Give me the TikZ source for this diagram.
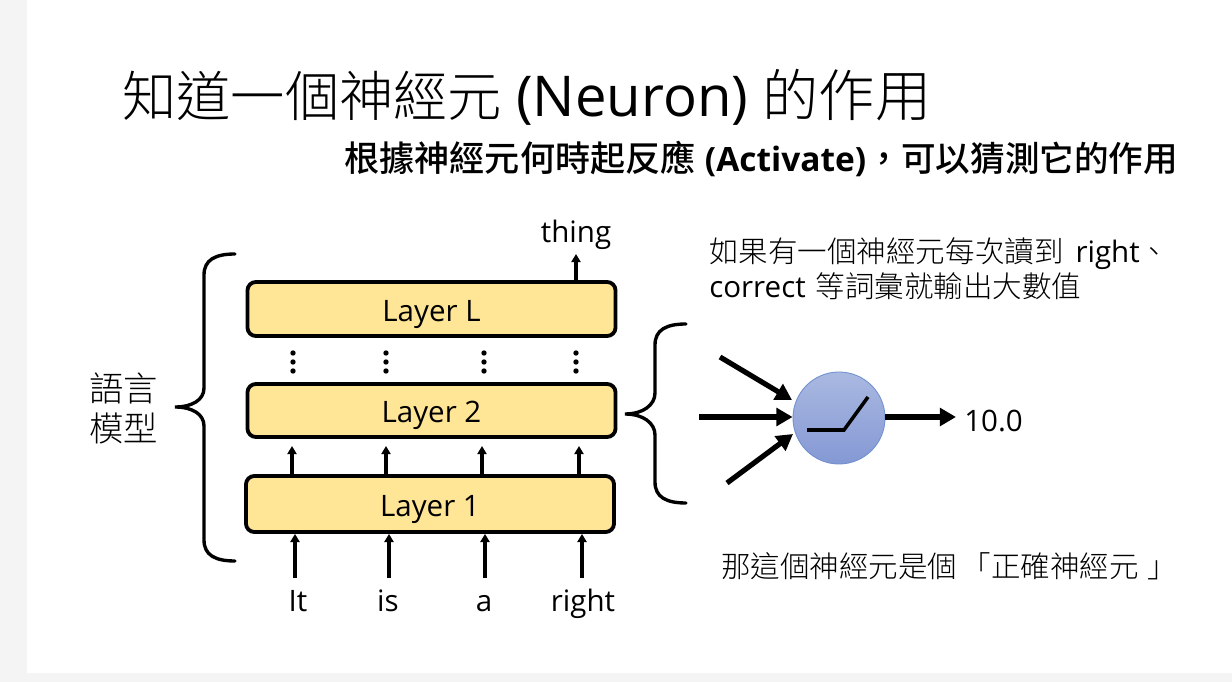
\documentclass[tikz,border=0pt]{standalone}
\usepackage{fontspec}
\usepackage{xcolor}
\setmainfont{Open Sans}
\newfontfamily\cjk{Noto Sans CJK TC Light}
\newfontfamily\cjkbold{Noto Sans CJK TC Medium}
\usetikzlibrary{arrows.meta, positioning}
\definecolor{layerfill}{HTML}{FFE596}
\definecolor{pagegray}{HTML}{F4F4F4}
\definecolor{cellborder}{HTML}{6F8FCF}
\definecolor{celltop}{HTML}{AAB9E1}
\definecolor{cellbottom}{HTML}{8498D4}

\begin{document}
\begin{tikzpicture}[
  x=0.025cm, y=-0.025cm,
  every node/.style={font=\fontsize{21}{26}\selectfont, inner sep=0pt},
  layer/.style={draw, line width=2.7pt, fill=layerfill, rounded corners=6pt,
                minimum width=9.2cm, minimum height=1.35cm,
                text height=17.4pt, text depth=0pt},
  word/.style={anchor=base},
  arrow/.style={-{Triangle[length=5.8pt,width=6.5pt]}, line width=2.4pt},
  bigarrow/.style={-{Triangle[length=11.5pt,width=12.5pt]}, line width=3.7pt},
  curly/.style={line width=2.4pt, line cap=round},
  note/.style={anchor=base west}
]
  \useasboundingbox (0,0) rectangle (1232,682);
  % Page
  \fill[pagegray] (0,0) rectangle (1232,682);
  \fill[white] (27,0) rectangle (1232,673);

  % Headings
  \node[anchor=base west, font=\fontsize{38.6}{42}\selectfont] (title) at (122,117)
    {{\cjk 知道一個神經元} {\fontsize{40}{42}\selectfont (Neuron)} {\fontsize{40}{42}\selectfont\cjk 的作用}};
  \node[anchor=base west, font=\fontsize{25}{30}\selectfont] (sub) at (344,172)
    {{\cjkbold 根據神經元何時起反應} {\fontsize{23.8}{30}\selectfont\bfseries (Activate)}{\cjkbold ，\fontsize{24.6}{30}\selectfont 可以猜測它的作用}};

  % Layers
  \node[layer] (layerl) at (431.5,309) {Layer L};
  \node[layer, minimum height=1.325cm] (layertwo) at (431.5,410.5) {Layer 2};
  \node[layer, minimum height=1.4cm] (layerone) at (430,504) {Layer 1};

  % Words
  \node[word] (it)    at (298,611) {It};
  \node[word] (is)    at (388,611) {is};
  \node[word] (a)     at (484,611) {a};
  \node[word] (right) at (583,611) {right};
  \node[word] (thing) at (576,242.5) {thing};

  % Arrow ends
  \coordinate (in1) at (295,578);
  \coordinate (in2) at (389,578);
  \coordinate (in3) at (485,578);
  \coordinate (in4) at (582,578);
  \coordinate (up1) at (292,446);
  \coordinate (up2) at (386,446);
  \coordinate (up3) at (482,446);
  \coordinate (up4) at (579,446);
  \coordinate (out) at (576,254);

  % Arrows
  \draw[arrow] (in1) -- (in1 |- layerone.south);
  \draw[arrow] (in2) -- (in2 |- layerone.south);
  \draw[arrow] (in3) -- (in3 |- layerone.south);
  \draw[arrow] (in4) -- (in4 |- layerone.south);
  \draw[arrow] (up1 |- layerone.north) -- (up1);
  \draw[arrow] (up2 |- layerone.north) -- (up2);
  \draw[arrow] (up3 |- layerone.north) -- (up3);
  \draw[arrow] (up4 |- layerone.north) -- (up4);
  \draw[arrow] (out |- layerl.north) -- (out);

  % Dots between the layers
  \foreach \x in {293,386,484,576}
    \foreach \y in {353,362,371}
      \fill (\x,\y) circle (1.9pt);

  % Left brace
  \draw[curly] (235,254) .. controls (215,254) and (204,260) .. (204,275)
    -- (204,388) .. controls (204,400) and (192,407) .. (175,407)
    .. controls (192,407) and (204,414) .. (204,426)
    -- (204,540) .. controls (204,555) and (215,561) .. (235,561);
  \node[font=\fontsize{24.4}{28.5}\selectfont\cjk, align=center] (model) at (123.5,408) {語言\\模型};

  % Right brace
  \draw[curly] (686,324) .. controls (666,324) and (655,330) .. (655,345)
    -- (655,393) .. controls (655,405) and (643,414) .. (625,414)
    .. controls (643,414) and (655,423) .. (655,435)
    -- (655,482) .. controls (655,497) and (666,503) .. (686,503);

  % Neuron
  \node[circle, draw=cellborder, line width=0.6pt, top color=celltop, bottom color=cellbottom,
        minimum size=2.3cm] (cell) at (839,418) {};
  \coordinate (src1) at (720,357);
  \coordinate (src2) at (699,417);
  \coordinate (src3) at (727,483);
  \coordinate (dst1) at (792,400);
  \coordinate (dst3) at (793,434);
  \coordinate (dst4) at (956,417);
  \draw[bigarrow] (src1) -- (dst1);
  \draw[bigarrow] (src2) -- (src2 -| cell.west);
  \draw[bigarrow] (src3) -- (dst3);
  \coordinate (ramp1) at (807,430);
  \coordinate (ramp2) at (844,430);
  \coordinate (ramp3) at (868,397);
  \draw[line width=2.5pt] (ramp1) -- (ramp2) -- (ramp3);
  \node[word] (value) at (993.5,432) {10.0};
  \draw[bigarrow] (dst4 -| cell.east) -- (dst4);

  % Side notes
  \node[note] (note1) at (709,263) {{\cjk 如果有一個神經元每次讀到}\hspace{3pt} right{\cjk 、}};
  \node[note] (note2) at (709,298) {correct\hspace{1.5pt} {\cjk 等詞彙就輸出大數值}};
  \node[note] (note3) at (721,577) {\cjk 那這個神經元是個\hspace{3pt}「正確神經元\hspace{6pt}」};
\end{tikzpicture}
\end{document}
